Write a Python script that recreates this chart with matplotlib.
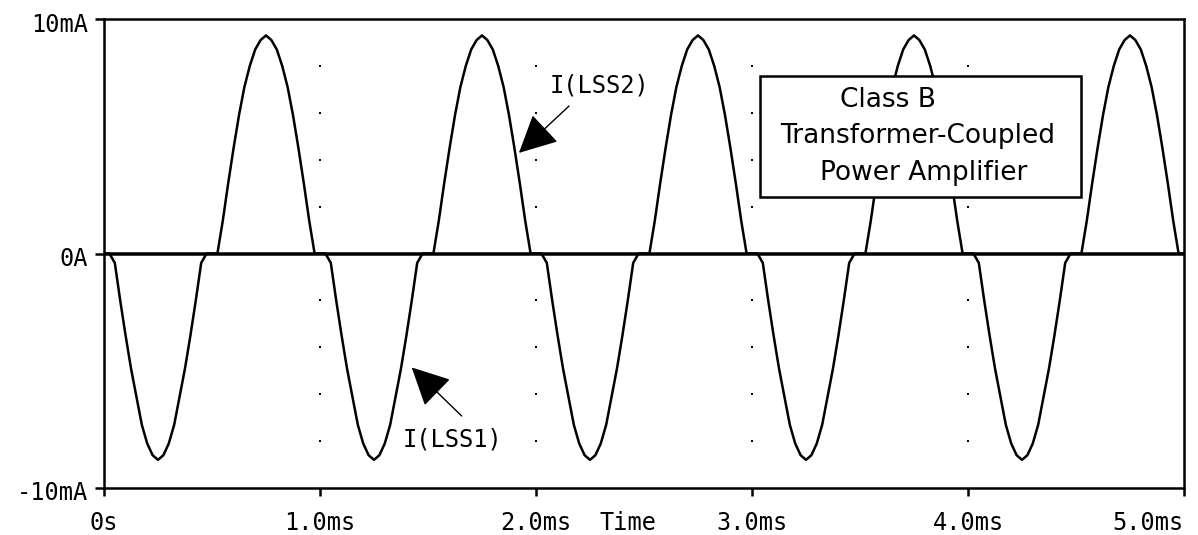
import matplotlib
matplotlib.use("Agg")
import matplotlib.pyplot as plt
import matplotlib.transforms as mtransforms
from matplotlib.patches import Rectangle
import numpy as np

# time samples, 0 .. 5 ms every 0.025 ms
time_ms = np.linspace(0, 5, 201)

# I(LSS1) in mA, one row per 1 ms cycle (40 samples each) + last sample
i_lss1 = (
    [0, 0, -0.4, -2.0, -3.5, -4.9, -6.1, -7.3, -8.1, -8.6, -8.8, -8.6, -8.1, -7.3, -6.1, -4.9, -3.5, -2.0, -0.4, 0,
     0, 0, 0, 0, 0, 0, 0, 0, 0, 0, 0, 0, 0, 0, 0, 0, 0, 0, 0, 0]
    + [0, 0, -0.4, -2.0, -3.5, -4.9, -6.1, -7.3, -8.1, -8.6, -8.8, -8.6, -8.1, -7.3, -6.1, -4.9, -3.5, -2.0, -0.4, 0,
       0, 0, 0, 0, 0, 0, 0, 0, 0, 0, 0, 0, 0, 0, 0, 0, 0, 0, 0, 0]
    + [0, 0, -0.4, -2.0, -3.5, -4.9, -6.1, -7.3, -8.1, -8.6, -8.8, -8.6, -8.1, -7.3, -6.1, -4.9, -3.5, -2.0, -0.4, 0,
       0, 0, 0, 0, 0, 0, 0, 0, 0, 0, 0, 0, 0, 0, 0, 0, 0, 0, 0, 0]
    + [0, 0, -0.4, -2.0, -3.5, -4.9, -6.1, -7.3, -8.1, -8.6, -8.8, -8.6, -8.1, -7.3, -6.1, -4.9, -3.5, -2.0, -0.4, 0,
       0, 0, 0, 0, 0, 0, 0, 0, 0, 0, 0, 0, 0, 0, 0, 0, 0, 0, 0, 0]
    + [0, 0, -0.4, -2.0, -3.5, -4.9, -6.1, -7.3, -8.1, -8.6, -8.8, -8.6, -8.1, -7.3, -6.1, -4.9, -3.5, -2.0, -0.4, 0,
       0, 0, 0, 0, 0, 0, 0, 0, 0, 0, 0, 0, 0, 0, 0, 0, 0, 0, 0, 0]
    + [0]
)

# I(LSS2) in mA
i_lss2 = (
    [0, 0, 0, 0, 0, 0, 0, 0, 0, 0, 0, 0, 0, 0, 0, 0, 0, 0, 0, 0, 0,
     0, 1.4, 3.0, 4.5, 5.9, 7.1, 8.0, 8.7, 9.1, 9.3, 9.1, 8.7, 8.0, 7.1, 5.9, 4.5, 3.0, 1.4, 0]
    + [0, 0, 0, 0, 0, 0, 0, 0, 0, 0, 0, 0, 0, 0, 0, 0, 0, 0, 0, 0, 0,
       0, 1.4, 3.0, 4.5, 5.9, 7.1, 8.0, 8.7, 9.1, 9.3, 9.1, 8.7, 8.0, 7.1, 5.9, 4.5, 3.0, 1.4, 0]
    + [0, 0, 0, 0, 0, 0, 0, 0, 0, 0, 0, 0, 0, 0, 0, 0, 0, 0, 0, 0, 0,
       0, 1.4, 3.0, 4.5, 5.9, 7.1, 8.0, 8.7, 9.1, 9.3, 9.1, 8.7, 8.0, 7.1, 5.9, 4.5, 3.0, 1.4, 0]
    + [0, 0, 0, 0, 0, 0, 0, 0, 0, 0, 0, 0, 0, 0, 0, 0, 0, 0, 0, 0, 0,
       0, 1.4, 3.0, 4.5, 5.9, 7.1, 8.0, 8.7, 9.1, 9.3, 9.1, 8.7, 8.0, 7.1, 5.9, 4.5, 3.0, 1.4, 0]
    + [0, 0, 0, 0, 0, 0, 0, 0, 0, 0, 0, 0, 0, 0, 0, 0, 0, 0, 0, 0, 0,
       0, 1.4, 3.0, 4.5, 5.9, 7.1, 8.0, 8.7, 9.1, 9.3, 9.1, 8.7, 8.0, 7.1, 5.9, 4.5, 3.0, 1.4, 0]
    + [0]
)

x_ticks = [0, 1, 2, 3, 4, 5]
x_labels = ["0s", "1.0ms", "2.0ms", "3.0ms", "4.0ms", "5.0ms"]
y_ticks = [-10, 0, 10]
y_labels = ["-10mA", "0A", "10mA"]
grid_x = [1, 2, 3, 4]
grid_y = [-8, -6, -4, -2, 2, 4, 6, 8]
box_lines = ["Class B", "Transformer-Coupled", "Power Amplifier"]

mono = "DejaVu Sans Mono"
lw = 1.8

fig = plt.figure(figsize=(11.98, 5.35), dpi=100)
ax = fig.add_axes([104 / 1198, 47 / 535, 1080 / 1198, 469 / 535])
ax.set_xlim(0, 5)
ax.set_ylim(-10, 10)

# dotted grid
gx, gy = np.meshgrid(grid_x, grid_y)
ax.plot(gx.ravel(), gy.ravel(), "s", color="black", ms=1.6, mew=0, zorder=1)

ax.axhline(0, color="black", lw=lw, zorder=2)
ax.plot(time_ms, i_lss1, color="black", lw=lw, zorder=3)
ax.plot(time_ms, i_lss2, color="black", lw=lw, zorder=3)

for s in ax.spines.values():
    s.set_linewidth(lw)

ax.set_xticks(x_ticks)
ax.set_xticklabels(x_labels, fontfamily=mono, fontsize=17)
ax.set_yticks(y_ticks)
ax.set_yticklabels(y_labels, fontfamily=mono, fontsize=17)
ax.tick_params(axis="x", direction="out", length=5.8, width=lw, pad=11)
ax.tick_params(axis="y", direction="out", length=6.5, width=lw, pad=5)
ax.get_xticklabels()[-1].set_horizontalalignment("right")
off = mtransforms.ScaledTranslation(0, -3 / 100, fig.dpi_scale_trans)
for lab in ax.get_yticklabels():
    lab.set_transform(lab.get_transform() + off)

trans = mtransforms.blended_transform_factory(ax.transData, ax.transAxes)
ax.text(2.296, -0.0896, "Time", transform=trans, fontfamily=mono, fontsize=17,
        ha="left", va="baseline")

# arrows and trace labels
head = "-|>,head_length=1.2,head_width=0.6"
ax.annotate("", xy=(1.921, 4.29), xytext=(2.153, 6.29),
            arrowprops=dict(arrowstyle=head, mutation_scale=20, lw=1.0, color="black",
                            shrinkA=0, shrinkB=0), zorder=5)
ax.text(2.065, 7.18, "I(LSS2)", fontfamily=mono, fontsize=17, ha="left", va="center")
ax.annotate("", xy=(1.4245, -4.86), xytext=(1.656, -6.93),
            arrowprops=dict(arrowstyle=head, mutation_scale=20, lw=1.0, color="black",
                            shrinkA=0, shrinkB=0), zorder=5)
ax.text(1.384, -7.92, "I(LSS1)", fontfamily=mono, fontsize=17, ha="left", va="center")

# title box
ax.add_patch(Rectangle((3.037, 2.42), 4.522 - 3.037, 7.57 - 2.42, facecolor="white",
                       edgecolor="black", lw=lw, zorder=6))
for txt, x, y in zip(box_lines, [3.407, 3.130, 3.315], [6.25, 4.71, 3.13]):
    ax.text(x, y, txt, fontfamily="DejaVu Sans", fontsize=19, ha="left", va="baseline", zorder=7)

fig.savefig("out.png", dpi=100)
